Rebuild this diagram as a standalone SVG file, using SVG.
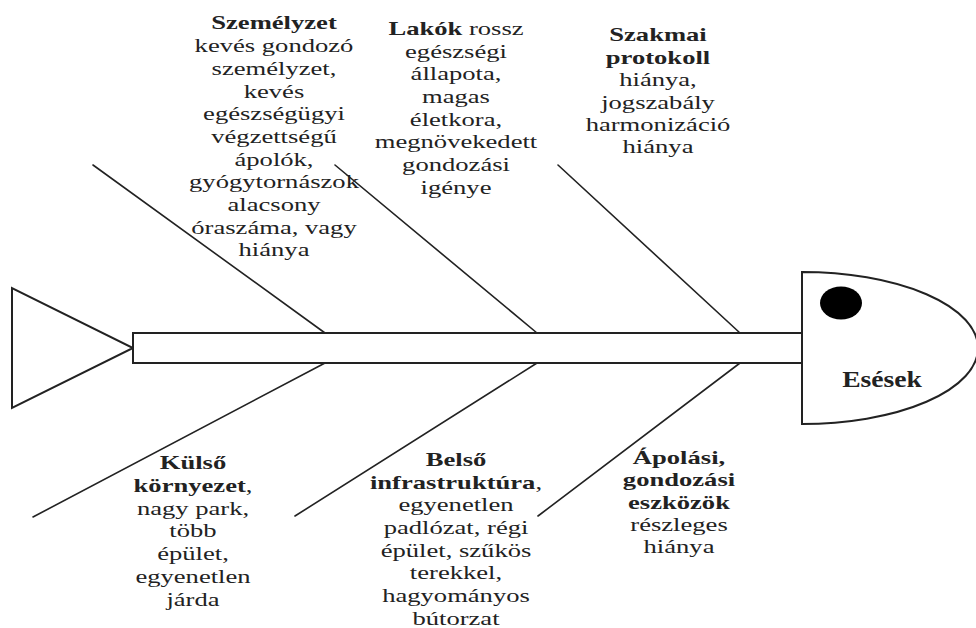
<svg xmlns="http://www.w3.org/2000/svg" width="976" height="628" viewBox="0 0 976 628" font-family="Liberation Serif, Tinos, DejaVu Serif, serif">
<style>
.ln{stroke:#222;stroke-width:1.6;fill:none;stroke-linecap:round}
.sh{stroke:#222;stroke-width:2;fill:#fff;stroke-linejoin:miter}
text{font-family:'Liberation Serif','Tinos','DejaVu Serif',serif;font-size:19px;fill:#222;text-anchor:middle}
.b{font-weight:bold}
</style>
<rect width="976" height="628" fill="#fff"/>
<g id="connectors">
<line class="ln" x1="93" y1="165" x2="325" y2="333"/>
<line class="ln" x1="335" y1="165" x2="537" y2="333"/>
<line class="ln" x1="558" y1="165" x2="740" y2="333"/>
<line class="ln" x1="325" y1="363" x2="33" y2="517"/>
<line class="ln" x1="537" y1="363" x2="295" y2="516"/>
<line class="ln" x1="740" y1="363" x2="538" y2="516"/>
</g>
<g id="tail"><polygon class="sh" points="12,288 12,408 133,348"/></g>
<g id="spine"><rect class="sh" x="133" y="333" width="669" height="30"/></g>
<g id="head">
<path class="sh" d="M802,272 A176,76 0 0 1 802,424 Z"/>
<ellipse cx="841" cy="303" rx="21" ry="16.5" fill="#000"/>
<text class="b" transform="translate(882,387) scale(1.2,1)" x="0" y="0" style="font-size:23px">Esések</text>
</g>
<g id="szemelyzet" transform="translate(274,0) scale(1.4,1)">
<text x="0" y="29.5" class="b">Személyzet</text>
<text x="0" y="52.2">kevés gondozó</text>
<text x="0" y="74.9">személyzet,</text>
<text x="0" y="97.6">kevés</text>
<text x="0" y="120.3">egészségügyi</text>
<text x="0" y="143">végzettségű</text>
<text x="0" y="165.7">ápolók,</text>
<text x="0" y="188.4">gyógytornászok</text>
<text x="0" y="211.1">alacsony</text>
<text x="0" y="233.8">óraszáma, vagy</text>
<text x="0" y="256.5">hiánya</text>
</g>
<g id="lakok" transform="translate(456,0) scale(1.4,1)">
<text x="0" y="35"><tspan class="b">Lakók</tspan> rossz</text>
<text x="0" y="57.7">egészségi</text>
<text x="0" y="80.4">állapota,</text>
<text x="0" y="103.1">magas</text>
<text x="0" y="125.8">életkora,</text>
<text x="0" y="148.5">megnövekedett</text>
<text x="0" y="171.2">gondozási</text>
<text x="0" y="193.9">igénye</text>
</g>
<g id="szakmai" transform="translate(658,0) scale(1.4,1)">
<text x="0" y="41.5" class="b">Szakmai</text>
<text x="0" y="63.9" class="b">protokoll</text>
<text x="0" y="86.3">hiánya,</text>
<text x="0" y="108.7">jogszabály</text>
<text x="0" y="131.1">harmonizáció</text>
<text x="0" y="153.5">hiánya</text>
</g>
<g id="kulso" transform="translate(193,0) scale(1.4,1)">
<text x="0" y="469" class="b">Külső</text>
<text x="0" y="491.8"><tspan class="b">környezet</tspan>,</text>
<text x="0" y="514.6">nagy park,</text>
<text x="0" y="537.4">több</text>
<text x="0" y="560.2">épület,</text>
<text x="0" y="583">egyenetlen</text>
<text x="0" y="605.8">járda</text>
</g>
<g id="belso" transform="translate(456,0) scale(1.4,1)">
<text x="0" y="466" class="b">Belső</text>
<text x="0" y="488.7"><tspan class="b">infrastruktúra</tspan>,</text>
<text x="0" y="511.4">egyenetlen</text>
<text x="0" y="534.1">padlózat, régi</text>
<text x="0" y="556.8">épület, szűkös</text>
<text x="0" y="579.5">terekkel,</text>
<text x="0" y="602.2">hagyományos</text>
<text x="0" y="624.9">bútorzat</text>
</g>
<g id="apolasi" transform="translate(679,0) scale(1.4,1)">
<text x="0" y="464" class="b">Ápolási,</text>
<text x="0" y="486.3" class="b">gondozási</text>
<text x="0" y="508.6" class="b">eszközök</text>
<text x="0" y="530.9">részleges</text>
<text x="0" y="553.2">hiánya</text>
</g>
</svg>
